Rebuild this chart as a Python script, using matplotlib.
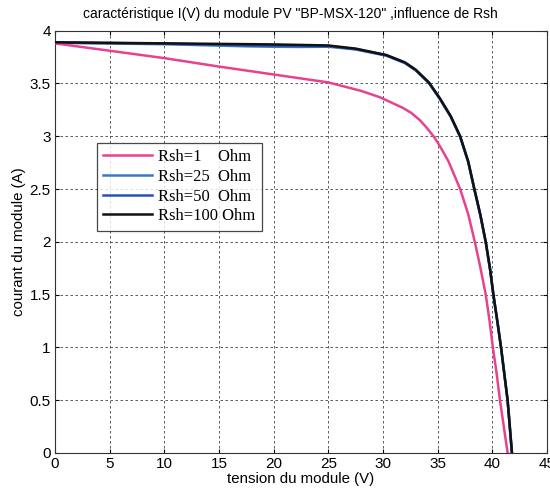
import matplotlib
matplotlib.use("Agg")
import matplotlib.pyplot as plt

# Rsh = 1 Ohm
v_rsh1 = [0, 5, 10, 15, 20, 25, 28, 29.7, 31.8, 32.6, 33.4, 34.0, 34.7, 35.3, 36, 37.06, 37.8, 38.4, 38.9, 39.4, 39.75, 40.05, 40.4, 40.7, 41.05, 41.4]
i_rsh1 = [3.88, 3.81, 3.74, 3.66, 3.585, 3.51, 3.43, 3.37, 3.27, 3.22, 3.15, 3.08, 2.99, 2.89, 2.76, 2.5, 2.26, 2.0, 1.76, 1.5, 1.25, 1.0, 0.75, 0.5, 0.25, 0.0]

# Rsh = 100 Ohm
v_rsh100 = [0, 10, 20, 25, 27.5, 30.3, 32, 33, 34.2, 35.2, 36.2, 37.06, 37.8, 38.36, 38.9, 39.4, 39.8, 40.1, 40.5, 40.8, 41.1, 41.4, 41.6, 41.8]
i_rsh100 = [3.89, 3.88, 3.87, 3.86, 3.83, 3.77, 3.70, 3.63, 3.51, 3.36, 3.19, 3.0, 2.76, 2.5, 2.26, 2.0, 1.74, 1.5, 1.22, 1.0, 0.75, 0.5, 0.25, 0.0]

# Rsh = 50 Ohm
v_rsh50 = [0, 10, 17.5, 20, 22.4, 25, 27.5, 30.3, 32, 33, 34.2, 35.2, 36.2, 37.06, 37.8, 38.36, 38.9, 39.4, 39.8, 40.1, 40.5, 40.8, 41.1, 41.4, 41.6, 41.8]
i_rsh50 = [3.888, 3.878, 3.862, 3.858, 3.855, 3.855, 3.827, 3.767, 3.697, 3.627, 3.507, 3.357, 3.187, 2.997, 2.757, 2.497, 2.257, 1.997, 1.737, 1.497, 1.217, 0.997, 0.747, 0.497, 0.247, 0.0]

# Rsh = 25 Ohm
v_rsh25 = [0, 10, 17.5, 20, 22.4, 25, 27.5, 30.3, 32, 33, 34.2, 35.2, 36.2, 37.06, 37.8, 38.36, 38.9, 39.4, 39.8, 40.1, 40.5, 40.8, 41.1, 41.4, 41.6, 41.78]
i_rsh25 = [3.885, 3.872, 3.852, 3.848, 3.846, 3.848, 3.822, 3.763, 3.693, 3.623, 3.503, 3.353, 3.183, 2.993, 2.753, 2.493, 2.253, 1.993, 1.733, 1.493, 1.213, 0.993, 0.743, 0.493, 0.243, 0.0]

labels = ["Rsh=1    Ohm", "Rsh=25  Ohm", "Rsh=50  Ohm", "Rsh=100 Ohm"]
colors = ["#e8428e", "#3b78c4", "#2a52b0", "#111111"]

xticks = [0, 5, 10, 15, 20, 25, 30, 35, 40, 45]
yticks = [0, 0.5, 1, 1.5, 2, 2.5, 3, 3.5, 4]

fig = plt.figure(figsize=(5.5, 4.95), dpi=100)
ax = fig.add_axes([0.1, 0.085, 0.8945, 0.853])

series = [(v_rsh1, i_rsh1), (v_rsh25, i_rsh25), (v_rsh50, i_rsh50), (v_rsh100, i_rsh100)]
zorders = [3, 2, 2.5, 4]
for (v, i), lab, c, z in zip(series, labels, colors, zorders):
    ax.plot(v, i, color=c, lw=1.8, label=lab, zorder=z)

ax.set_xlim(0, 45)
ax.set_ylim(0, 4)
ax.set_xticks(xticks)
ax.set_yticks(yticks)
ax.set_xticklabels([str(t) for t in xticks])
ax.set_yticklabels(["0", "0.5", "1", "1.5", "2", "2.5", "3", "3.5", "4"])
ax.tick_params(direction="in", length=3, labelsize=11, top=True, right=True, pad=3)
for lab in ax.get_xticklabels() + ax.get_yticklabels():
    lab.set_family("Liberation Sans")
ax.grid(True, color="0.25", linestyle=(0, (3, 3)), lw=0.6)
for s in ax.spines.values():
    s.set_linewidth(0.8)
    s.set_color("0.2")

ax.set_title('caractéristique I(V) du module PV "BP-MSX-120" ,influence de Rsh',
             fontsize=10, family="Liberation Sans", pad=9, x=0.478)
ax.set_xlabel("tension du module (V)", fontsize=10.8, family="Liberation Sans", labelpad=1)
ax.set_ylabel("courant du module (A)", fontsize=10.8, family="Liberation Sans", labelpad=3)

leg = ax.legend(loc="upper left", bbox_to_anchor=(0.085, 0.735),
                prop={"family": "Liberation Serif", "size": 12},
                frameon=True, fancybox=False, edgecolor="0.1",
                handlelength=2.9, handletextpad=0.4, borderpad=0.4,
                labelspacing=0.22, borderaxespad=0)
leg.get_frame().set_linewidth(0.9)

fig.savefig("out.png", dpi=100)
